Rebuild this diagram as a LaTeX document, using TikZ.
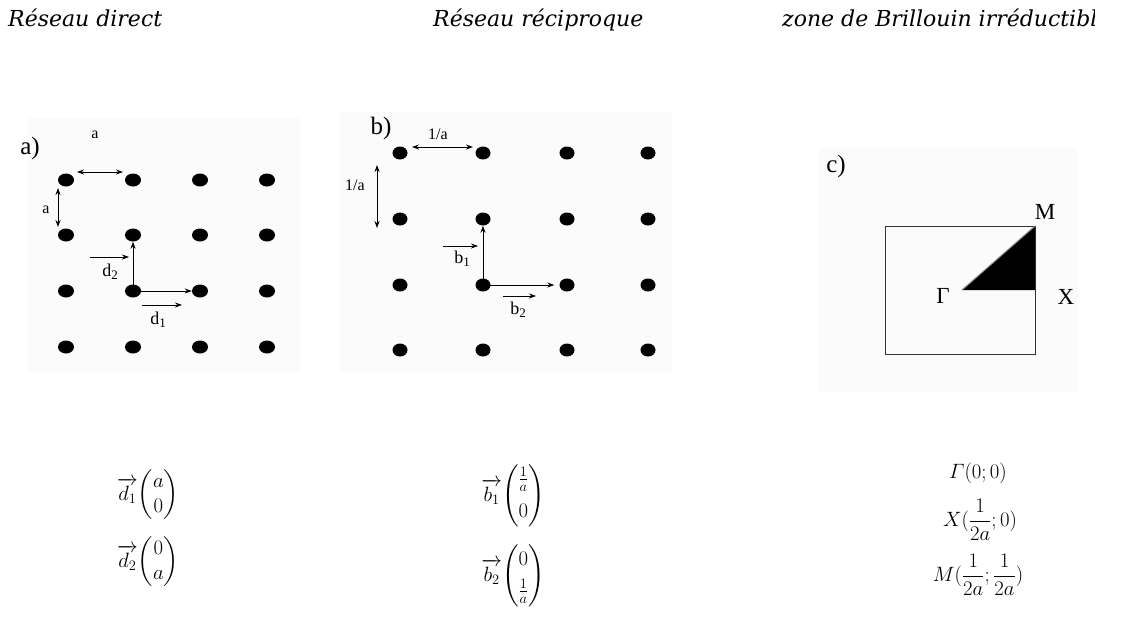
\documentclass[tikz,border=0pt]{standalone}
\usepackage{amsmath}
\usepackage{fontspec}
\newfontfamily\titlefont{DejaVu Serif}
\newfontfamily\lab{Liberation Serif}
\usetikzlibrary{arrows.meta,shapes.geometric}
\tikzset{
  dotA/.style={ellipse,fill=black,inner sep=0pt,minimum width=16pt,minimum height=13pt},
  dotB/.style={ellipse,fill=black,inner sep=0pt,minimum width=15pt,minimum height=13pt},
  vecarrow/.style={-{Stealth[length=7pt,width=5pt]},line width=0.9pt},
  dblarrow/.style={{Stealth[length=7pt,width=5pt]}-{Stealth[length=7pt,width=5pt]},line width=0.9pt},
  overarrow/.style={-{Stealth[length=7pt,width=5pt]},line width=0.8pt},
  title/.style={anchor=base west,inner sep=0pt,font=\titlefont\itshape\fontsize{22}{26}\selectfont},
  panellab/.style={inner sep=0pt,font=\lab\fontsize{25}{28}\selectfont},
  smalllab/.style={inner sep=0pt,font=\lab\fontsize{16}{18}\selectfont},
  veclab/.style={inner sep=0pt,font=\lab\fontsize{18}{20}\selectfont},
  formula/.style={inner sep=0pt,font=\fontsize{21}{25}\selectfont},
  panelbg/.style={fill=black!1.5,draw=none}
}
\begin{document}
\begin{tikzpicture}[x=1pt,y=-1pt]
\useasboundingbox (0,0) rectangle (1123,619);
\fill[white] (0,0) rectangle (1123,619);
% faint photo backgrounds
\fill[panelbg] (28,118) rectangle (300,372);
\fill[panelbg] (340,112) rectangle (672,372);
\fill[panelbg] (818,148) rectangle (1078,392);

% titles
\node[title] (t1) at (8,26) {Réseau direct};
\node[title] (t2) at (433,26) {Réseau réciproque};
\begin{scope}
\clip (0,0) rectangle (1094,60);
\node[title] (t3) at (782,26) {zone de Brillouin irréductible};
\end{scope}

% ---------- panel a ----------
\node[panellab] (la) at (30,148) {a)};
\foreach \i/\x in {1/66,2/133,3/200,4/267}
  \foreach \j/\y in {1/180,2/235,3/291,4/347}
    \node[dotA] (a\i\j) at (\x,\y) {};
\node[smalllab] (atop) at (95,135) {a};
\coordinate (ah1) at (77,172);
\coordinate (ah2) at (123,172);
\draw[dblarrow] (ah1) -- (ah2);
\node[smalllab] (aleft) at (46,210) {a};
\coordinate (av1) at (58,188);
\coordinate (av2) at (58,227);
\draw[dblarrow] (av1) -- (av2);
\draw[vecarrow] (a23.center) -- (a33.west);
\draw[vecarrow] (a23.center) -- (a22.south);
\coordinate (d2s) at (90,257);
\coordinate (d2e) at (129,257);
\draw[overarrow] (d2s) -- (d2e);
\node[veclab] (d2l) at (110,272) {d\raisebox{-0.35ex}{\fontsize{13}{13}\selectfont 2}};
\coordinate (d1s) at (142,305);
\coordinate (d1e) at (182,305);
\draw[overarrow] (d1s) -- (d1e);
\node[veclab] (d1l) at (158,320) {d\raisebox{-0.35ex}{\fontsize{13}{13}\selectfont 1}};

% ---------- panel b ----------
\node[panellab] (lb) at (381,128) {b)};
\foreach \i/\x in {1/400,2/483,3/567,4/648}
  \foreach \j/\y in {1/153,2/219,3/285,4/350}
    \node[dotB] (b\i\j) at (\x,\y) {};
\node[smalllab] (btop) at (438,134) {1/a};
\coordinate (bh1) at (412,147);
\coordinate (bh2) at (473,147);
\draw[dblarrow] (bh1) -- (bh2);
\node[smalllab] (bleft) at (355,185) {1/a};
\coordinate (bv1) at (377,165);
\coordinate (bv2) at (377,228);
\draw[dblarrow] (bv1) -- (bv2);
\draw[vecarrow] (b23.center) -- (b22.south);
\draw[vecarrow,shorten >=5pt] (b23.center) -- (b33.west);
\coordinate (b1s) at (443,246);
\coordinate (b1e) at (478,246);
\draw[overarrow] (b1s) -- (b1e);
\node[veclab] (b1l) at (462,259) {b\raisebox{-0.35ex}{\fontsize{13}{13}\selectfont 1}};
\coordinate (b2s) at (503,296);
\coordinate (b2e) at (536,296);
\draw[overarrow] (b2s) -- (b2e);
\node[veclab] (b2l) at (518,310) {b\raisebox{-0.35ex}{\fontsize{13}{13}\selectfont 2}};

% ---------- panel c ----------
\node[panellab] (lc) at (836,166) {c)};
\node[draw=black!80,line width=1.4pt,minimum width=150pt,minimum height=128pt,anchor=north west,inner sep=0pt] (bz) at (885,226) {};
\coordinate (G) at (962,290);
\coordinate (Xp) at (1035,290);
\coordinate (Mp) at (1035,226);
\fill[black] (G) -- (Mp) -- (Xp) -- cycle;
\draw[black!45,line width=1pt] (G) -- (Mp);
\node[panellab,font=\lab\fontsize{23}{26}\selectfont] (Gl) at (943,296) {Γ};
\node[panellab,font=\lab\fontsize{23}{26}\selectfont] (Ml) at (1045,212) {M};
\node[panellab,font=\lab\fontsize{23}{26}\selectfont] (Xl) at (1066,297) {X};

% ---------- formulas ----------
\node[formula] (fd1) at (148,495) {$\overrightarrow{d_1}\!\begin{pmatrix}a\\0\end{pmatrix}$};
\node[formula] (fd2) at (148,562) {$\overrightarrow{d_2}\!\begin{pmatrix}0\\a\end{pmatrix}$};
\node[formula] (fb1) at (513,496) {$\overrightarrow{b_1}\!\begin{pmatrix}\frac{1}{a}\\[8pt]0\end{pmatrix}$};
\node[formula] (fb2) at (513,576) {$\overrightarrow{b_2}\!\begin{pmatrix}0\\[6pt]\frac{1}{a}\end{pmatrix}$};
\node[formula] (fg) at (978,473) {$\varGamma(0;0)$};
\node[formula] (fx) at (980,520) {$X(\dfrac{1}{2a};0)$};
\node[formula] (fm) at (978,575) {$M(\dfrac{1}{2a};\dfrac{1}{2a})$};
\end{tikzpicture}
\end{document}
